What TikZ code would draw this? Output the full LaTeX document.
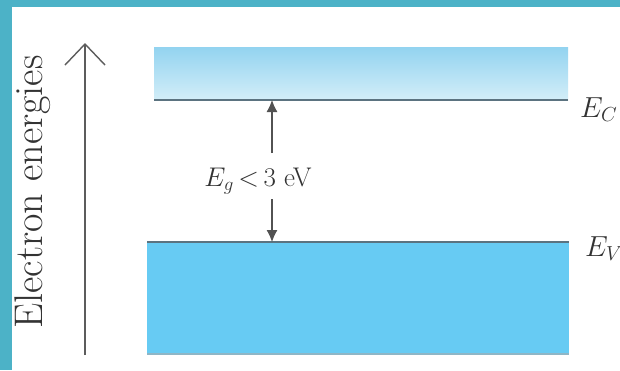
\RequirePackage{fix-cm}
\documentclass[tikz,border=0pt]{standalone}
\usepackage{fontspec}
\usetikzlibrary{arrows.meta}
\definecolor{frameteal}{HTML}{4CB2C7}
\definecolor{cbtop}{HTML}{93D3F0}
\definecolor{cbbot}{HTML}{D3EEF8}
\definecolor{vbfill}{HTML}{67CBF3}
\definecolor{edgedark}{HTML}{5B7380}
\definecolor{edgelight}{HTML}{8FB6C6}
\definecolor{inkgray}{HTML}{333333}
\tikzset{
  band/.style={inner sep=0pt, outer sep=0pt, draw=none},
  gaparrow/.style={draw=inkgray!85, line width=1.1pt, -{Latex[length=12pt,width=11pt]}},
  axisarrow/.style={draw=inkgray!80, line width=1.4pt, -{Straight Barb[length=21pt,width=40pt,line width=1.4pt]}},
  lbl/.style={text=inkgray, inner sep=0pt, font=\fontsize{27}{32}\selectfont},
  bandlbl/.style={text=inkgray, inner sep=0pt, font=\fontsize{29}{34}\selectfont},
}
\begin{document}
\begin{tikzpicture}[x=1pt,y=-1pt]
  % frame and background
  \fill[frameteal] (0,0) rectangle (620,370);
  \fill[white] (12,7) rectangle (620,370);
  \useasboundingbox (0,0) rectangle (620,370);

  % conduction band
  \node[band, minimum width=414pt, minimum height=53pt,
        top color=cbtop, bottom color=cbbot] (cb) at (361,73.5) {};
  \draw[edgedark, line width=2pt] (cb.south west) -- (cb.south east);

  % valence band
  \node[band, minimum width=422pt, minimum height=112pt, fill=vbfill] (vb) at (358,298) {};
  \draw[edgedark, line width=2pt] (vb.north west) -- (vb.north east);
  \draw[edgelight, line width=2pt] (vb.south west) -- (vb.south east);

  % band labels
  \node[bandlbl, anchor=base west] (ec) at (580,117) {$E_C$};
  \node[bandlbl, anchor=base west] (ev) at (585,256) {$E_V$};

  % gap label and arrows
  \node[lbl, anchor=base] (eg) at (258,186) {$E_g\mskip-2mu < \mskip-2mu 3$ eV};
  \coordinate (gt) at (272,153);
  \coordinate (gb) at (272,199);
  \draw[gaparrow] (gt) -- (cb.south -| gt);
  \draw[gaparrow] (gb) -- (vb.north -| gb);

  % energy axis
  \coordinate (ax0) at (85,355);
  \coordinate (ax1) at (85,43);
  \draw[axisarrow] (ax0) -- (ax1);
  \node[text=inkgray, inner sep=0pt, rotate=90, anchor=base,
        font=\fontsize{40}{44}\selectfont\addfontfeatures{LetterSpace=4}] (axl) at (42,192) {Electron energies};
\end{tikzpicture}
\end{document}
